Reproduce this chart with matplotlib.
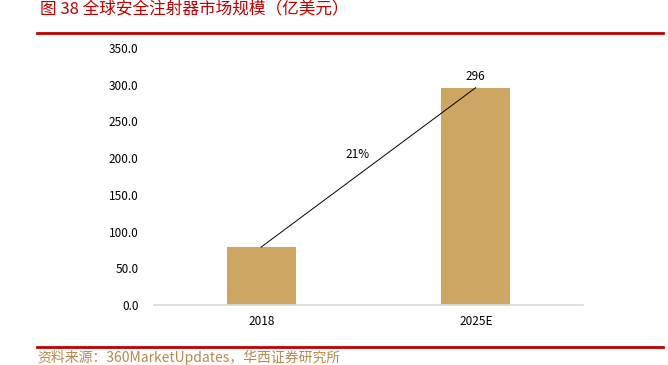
import matplotlib
matplotlib.use('Agg')
import matplotlib.pyplot as plt
from matplotlib.lines import Line2D

plt.rcParams['font.family'] = ['Noto Sans CJK SC', 'DejaVu Sans']

# 数据
years = ['2018', '2025E']
values = [79, 296]
cagr_label = '21%'
yticks = [0, 50, 100, 150, 200, 250, 300, 350]

title = '图 38 全球安全注射器市场规模（亿美元）'
source = '资料来源：360MarketUpdates，华西证券研究所'

fig = plt.figure(figsize=(6.68, 3.65), dpi=100)
ax = fig.add_axes([154 / 668, 1 - 305 / 365, (583 - 154) / 668, (305 - 48) / 365])

x = range(len(years))
ax.bar(x, values, width=0.32, color='#CDA663', zorder=2)
ax.plot(x, values, color='black', lw=0.7, zorder=3)

# 标注
ax.text(1, values[1] + 6, str(values[1]), ha='center', va='bottom', fontsize=8.5)
ax.text(0.45, 205, cagr_label, ha='center', va='center', fontsize=8.5)

ax.set_xlim(-0.5, 1.5)
ax.set_ylim(0, 350)
ax.set_xticks(list(x))
ax.set_xticklabels(years, fontsize=8.5)
ax.set_yticks(yticks)
ax.set_yticklabels(['%.1f' % v for v in yticks], fontsize=8.5)
ax.tick_params(length=0, pad=11, axis='y')
ax.tick_params(length=0, pad=7, axis='x')
for s in ['top', 'right', 'left']:
    ax.spines[s].set_visible(False)
ax.spines['bottom'].set_color('#d9d9d9')
ax.spines['bottom'].set_linewidth(1.2)

# 标题与红线
fig.text(40 / 668, 1 - 10 / 365, title, color='#C00000', fontsize=12, va='center', ha='left')
fig.add_artist(Line2D([37 / 668, 663 / 668], [1 - 33 / 365] * 2, color='#C00000', lw=2))
fig.add_artist(Line2D([37 / 668, 663 / 668], [1 - 347 / 365] * 2, color='#C00000', lw=2))
fig.text(37 / 668, 1 - 357 / 365, source, color='#B8894E', fontsize=10, va='center', ha='left')

plt.savefig('out.png', dpi=100)
